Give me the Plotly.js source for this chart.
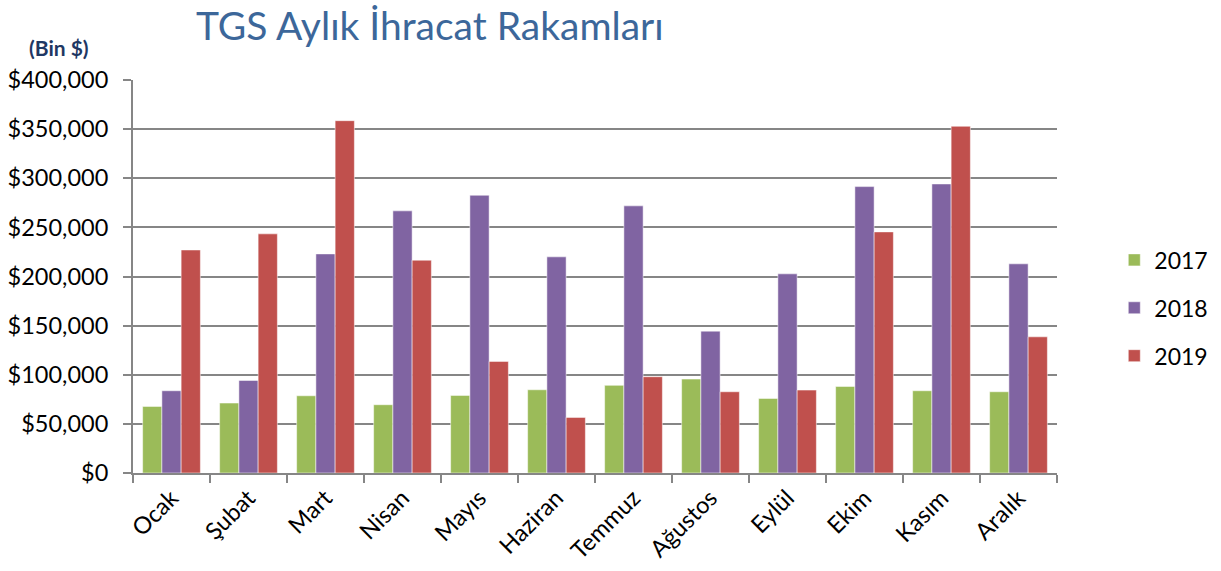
<!DOCTYPE html>
<html>
<head>
<meta charset="utf-8">
<script src="https://cdn.plot.ly/plotly-3.0.1.min.js"></script>
<style>html,body{margin:0;padding:0;background:#fff;}#chart{width:1221px;height:571px;}</style>
</head>
<body>
<div id="chart"></div>
<script>
const months = ["Ocak","Şubat","Mart","Nisan","Mayıs","Haziran","Temmuz","Ağustos","Eylül","Ekim","Kasım","Aralık"];
const v2017 = [67800, 71200, 78600, 69500, 79000, 84700, 89200, 95600, 75900, 88100, 83700, 82700];
const v2018 = [83700, 94200, 223000, 266800, 282700, 220000, 271900, 144400, 202700, 291500, 294200, 212900];
const v2019 = [227000, 243400, 358600, 216600, 113600, 56600, 98000, 82700, 84400, 245400, 352900, 138600];
const seriesNames = ["2017","2018","2019"];
const yTicks = [0,50000,100000,150000,200000,250000,300000,350000,400000];

const colors = ["#9BBB59","#8064A2","#C0504D"];
const values = [v2017, v2018, v2019];
const traces = values.map((v,i)=>({
  type:"bar", x:months, y:v, name:seriesNames[i], legendgroup:"g"+i,
  marker:{color:colors[i], line:{color:"rgba(255,255,255,0.5)", width:1}}
}));

const font = "Lato, sans-serif";
const layout = {
  width:1221, height:571,
  margin:{l:133, r:164, t:80, b:98, autoexpand:false},
  paper_bgcolor:"#fff", plot_bgcolor:"#fff",
  font:{family:font, size:23, color:"#000"},
  barmode:"group", bargap:0.25, bargroupgap:0,
  showlegend:true,
  legend:{x:1.062, y:0.42, xanchor:"left", yanchor:"middle", font:{size:23, color:"#000"},
          tracegroupgap:15, itemwidth:30, bgcolor:"rgba(0,0,0,0)"},
  xaxis:{type:"category", tickangle:-45, showline:true, linecolor:"#868686", linewidth:2,
         ticks:"outside", tickson:"boundaries", ticklen:8, tickcolor:"#868686", tickwidth:2,
         showgrid:false, tickfont:{size:23.5}, fixedrange:true, automargin:false},
  yaxis:{range:[0,400000], tickvals:yTicks, ticktext:yTicks.map(t=>"$"+t.toLocaleString("en-US")),
         showline:true, linecolor:"#868686", linewidth:2, ticks:"outside", ticklen:8,
         tickcolor:"#868686", tickwidth:2, showgrid:true, gridcolor:"#868686", gridwidth:2,
         zeroline:false, tickfont:{size:23.5}, ticklabelstandoff:10, fixedrange:true, automargin:false},
  annotations:[
    {text:"TGS Aylık İhracat Rakamları", xref:"paper", yref:"paper", x:(430-133)/924, y:1.14,
     xanchor:"center", yanchor:"middle", showarrow:false, font:{size:39, color:"#3C679A"}},
    {text:"<b>(Bin $)</b>", xref:"paper", yref:"paper", x:(59-133)/924, y:1.083,
     xanchor:"center", yanchor:"middle", showarrow:false, font:{size:21, color:"#1F3864"}}
  ]
};
Plotly.newPlot("chart", traces, layout, {displayModeBar:false, staticPlot:true});
</script>
</body>
</html>
